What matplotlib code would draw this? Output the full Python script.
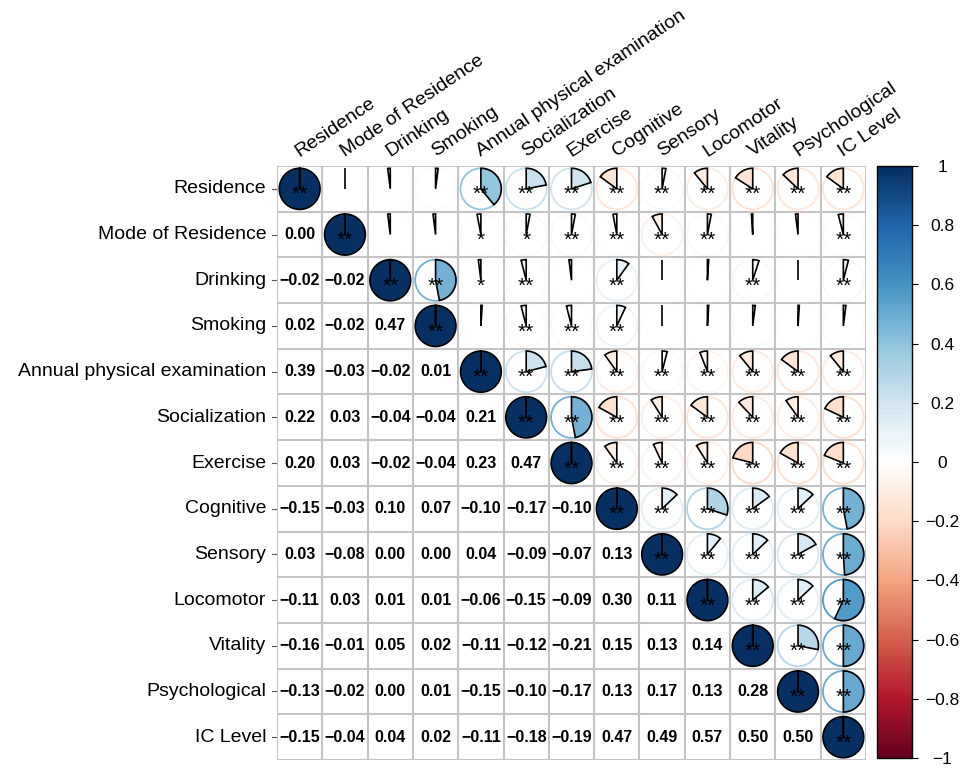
import numpy as np
import matplotlib
matplotlib.use("Agg")
import matplotlib.pyplot as plt
from matplotlib.colors import LinearSegmentedColormap, Normalize
from matplotlib.patches import Circle, Polygon
from matplotlib.cm import ScalarMappable

plt.rcParams['font.family'] = ['Liberation Sans', 'DejaVu Sans']

labels = ["Residence", "Mode of Residence", "Drinking", "Smoking",
          "Annual physical examination", "Socialization", "Exercise",
          "Cognitive", "Sensory", "Locomotor", "Vitality", "Psychological",
          "IC Level"]

# lower triangle of the correlation matrix, row by row
lower = [
    [],
    [0.00],
    [-0.02, -0.02],
    [0.02, -0.02, 0.47],
    [0.39, -0.03, -0.02, 0.01],
    [0.22, 0.03, -0.04, -0.04, 0.21],
    [0.20, 0.03, -0.02, -0.04, 0.23, 0.47],
    [-0.15, -0.03, 0.10, 0.07, -0.10, -0.17, -0.10],
    [0.03, -0.08, 0.00, 0.00, 0.04, -0.09, -0.07, 0.13],
    [-0.11, 0.03, 0.01, 0.01, -0.06, -0.15, -0.09, 0.30, 0.11],
    [-0.16, -0.01, 0.05, 0.02, -0.11, -0.12, -0.21, 0.15, 0.13, 0.14],
    [-0.13, -0.02, 0.00, 0.01, -0.15, -0.10, -0.17, 0.13, 0.17, 0.13, 0.28],
    [-0.15, -0.04, 0.04, 0.02, -0.11, -0.18, -0.19, 0.47, 0.49, 0.57, 0.50, 0.50],
]

# significance marks for the upper triangle (row i, columns i+1..12)
stars_upper = [
    ["", "", "", "**", "**", "**", "**", "**", "**", "**", "**", "**"],
    ["", "", "*", "*", "**", "**", "**", "**", "", "", "**"],
    ["**", "*", "**", "", "**", "", "", "**", "", "**"],
    ["", "**", "**", "**", "", "", "", "", ""],
    ["**"] * 8,
    ["**"] * 7,
    ["**"] * 6,
    ["**"] * 5,
    ["**"] * 4,
    ["**"] * 3,
    ["**"] * 2,
    ["**"] * 1,
    [],
]

n = len(labels)
corr = np.eye(n)
for i, row in enumerate(lower):
    for j, v in enumerate(row):
        corr[i, j] = v
        corr[j, i] = v

cmap = LinearSegmentedColormap.from_list(
    "corr", ["#67001F", "#B2182B", "#D6604D", "#F4A582", "#FDDBC7", "#FFFFFF",
             "#D1E5F0", "#92C5DE", "#4393C3", "#2166AC", "#053061"], N=200)
norm = Normalize(-1, 1)

fig = plt.figure(figsize=(9.66, 7.68), dpi=100)
ax = fig.add_axes([277 / 966, 1 - 760 / 768, 589 / 966, 594 / 768])
ax.set_xlim(-0.5, n - 0.5)
ax.set_ylim(n - 0.5, -0.5)
ax.set_xticks([])
ax.set_yticks([])
for s in ax.spines.values():
    s.set_visible(False)

R = 0.45
for i in range(n):
    for j in range(n):
        r = corr[i, j]
        if j < i:
            ax.text(j, i, f"{r:.2f}".replace("-", "\u2212"), ha="center", va="center",
                    fontsize=11.5, fontweight="bold", color="black", zorder=4)
            continue
        col = cmap(norm(r))
        if j > i:
            ax.add_patch(Circle((j, i), R, fill=False, edgecolor=col, lw=1.3, zorder=2))
        theta = np.radians(np.linspace(90, 90 - 360 * r, 100))
        pts = [(j, i)] + [(j + R * np.cos(t), i - R * np.sin(t)) for t in theta]
        ax.add_patch(Polygon(pts, closed=True, facecolor=col, edgecolor="black",
                             lw=1.2, zorder=3))
        st = "**" if i == j else stars_upper[i][j - i - 1]
        if st:
            ax.text(j, i + 0.25, st, ha="center", va="baseline", fontsize=15,
                    color="black", zorder=5)

grid_c = "#C4C4C4"
for k in range(n + 1):
    ax.plot([k - 0.5, k - 0.5], [-0.5, n - 0.5], color=grid_c, lw=1.5, zorder=1)
    ax.plot([-0.5, n - 0.5], [k - 0.5, k - 0.5], color=grid_c, lw=1.5, zorder=1)

for i, name in enumerate(labels):
    ax.text(-0.5 - 0.24, i, name, ha="right", va="center", fontsize=14, color="black")
    ax.plot([-0.5 - 0.12, -0.5 - 0.02], [i, i], color="#555555", lw=0.8, clip_on=False)
for j, name in enumerate(labels):
    ax.text(j, -0.5 - 0.2, name, ha="left", va="baseline", rotation=34,
            rotation_mode="anchor", fontsize=14, color="black")

cax = fig.add_axes([877 / 966, 1 - 758 / 768, 35 / 966, 592 / 768])
cb = fig.colorbar(ScalarMappable(norm=norm, cmap=cmap), cax=cax,
                  ticks=np.linspace(-1, 1, 11))
cb.outline.set_linewidth(1.0)
cb.outline.set_edgecolor("black")
cb.ax.tick_params(length=4, width=0.8, pad=18, labelsize=12.5)
cb.ax.set_yticklabels([f"{t:g}".replace("-", "\u2212") for t in np.linspace(-1, 1, 11).round(1)])
for t in cb.ax.get_yticklabels():
    t.set_horizontalalignment("center")

fig.savefig("out.png", dpi=100)
